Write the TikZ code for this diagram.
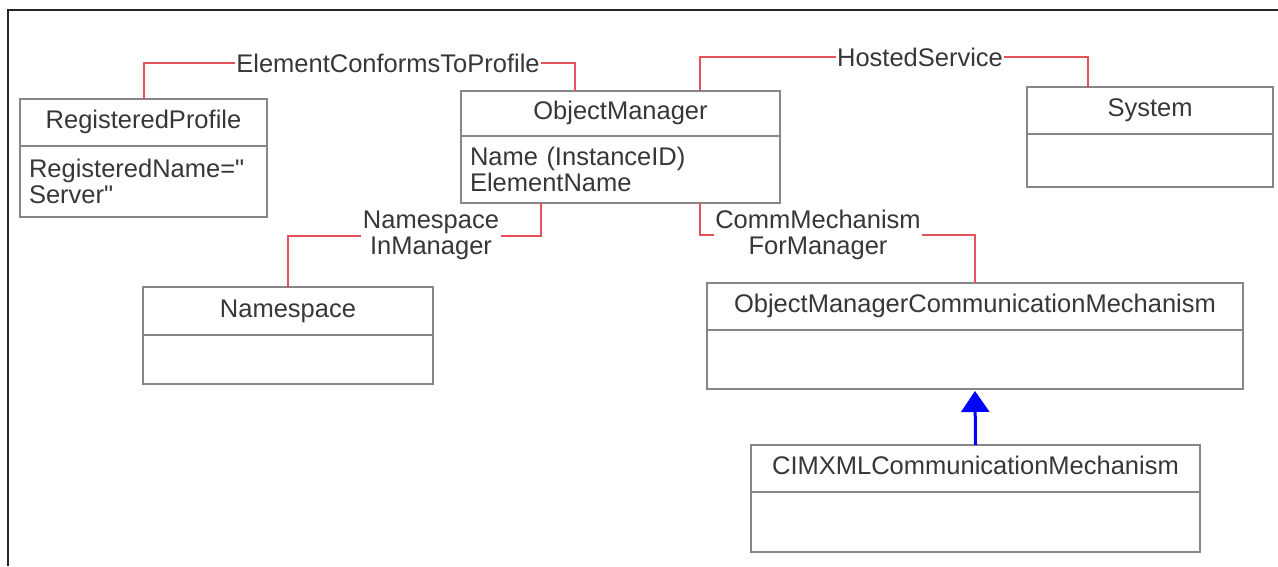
\documentclass[tikz,border=0pt]{standalone}
\usepackage{fontspec}
\setmainfont{Liberation Sans}[Ligatures=TeXOff]
\usetikzlibrary{arrows.meta,calc}
\definecolor{assocred}{RGB}{228,82,92}
\definecolor{boxgray}{RGB}{135,135,135}
\definecolor{txtgray}{RGB}{55,55,55}
\newcommand{\umlfont}{\fontsize{25.5}{25.5}\selectfont}
\begin{document}
\begin{tikzpicture}[x=1pt,y=-1pt,
  clstitle/.style={draw=boxgray, line width=2pt, inner sep=0pt, outer sep=0pt,
    text height=18pt, text depth=6pt, font=\umlfont, text=txtgray},
  clsattr/.style={draw=boxgray, line width=2pt, inner xsep=9pt, inner ysep=0pt, outer sep=0pt,
    align=left, font=\umlfont, text=txtgray, anchor=north},
  assoc/.style={draw=assocred, line width=2pt},
  assoclabel/.style={fill=white, inner xsep=1.5pt, inner ysep=1pt, font=\umlfont,
    text=txtgray, align=center},
  inherit/.style={draw=blue, line width=3pt, -{Triangle[width=28pt,length=21pt]}, shorten >=2pt}
]
\useasboundingbox (0,0) rectangle (1278,566);
\draw[line width=2.5pt, black!85] (8,566) -- (8,10) -- (1278,10);

% classes
\node[clstitle, minimum width=247pt, minimum height=47pt] (rp) at (143.5,122.5) {RegisteredProfile};
\node[clsattr, minimum width=247pt, minimum height=71pt, text width=229pt] (rpa) at (rp.south) {RegisteredName="\\Server"};

\node[clstitle, minimum width=319pt, minimum height=45pt] (om) at (620.5,113.5) {ObjectManager};
\node[clsattr, minimum width=319pt, minimum height=67pt, text width=301pt] (oma) at (om.south) {Name (InstanceID)\\ElementName};

\node[clstitle, minimum width=246pt, minimum height=47pt] (sys) at (1150,110.5) {System};
\node[clsattr, minimum width=246pt, minimum height=53pt] (sysa) at (sys.south) {};

\node[clstitle, minimum width=290pt, minimum height=48pt] (ns) at (288,311) {Namespace};
\node[clsattr, minimum width=290pt, minimum height=49pt] (nsa) at (ns.south) {};

\node[clstitle, minimum width=536pt, minimum height=47pt] (omcm) at (975,306.5) {ObjectManagerCommunicationMechanism};
\node[clsattr, minimum width=536pt, minimum height=59pt] (omcma) at (omcm.south) {};

\node[clstitle, minimum width=449pt, minimum height=47pt] (cim) at (975.5,468.5) {CIMXMLCommunicationMechanism};
\node[clsattr, minimum width=449pt, minimum height=60pt] (cima) at (cim.south) {};

% association end points
\coordinate (ecpR) at ([xshift=114pt]om.north west);
\coordinate (hsL) at ([xshift=239pt]om.north west);
\coordinate (hsR) at ([xshift=61pt]sys.north west);
\coordinate (nimA) at ([xshift=80pt]oma.south west);
\coordinate (cmA) at ([xshift=239pt]oma.south west);

% associations
\draw[assoc] (rp.north) |- ([yshift=28pt]ecpR) -- (ecpR);
\node[assoclabel] (ecpl) at (388,63) {ElementConformsToProfile};

\draw[assoc] (hsL) -- ([yshift=34pt]hsL) -| (hsR);
\node[assoclabel] (hsl) at (920,57) {HostedService};

\draw[assoc] (nimA) -- ([yshift=-33pt]nimA) -| (ns.north);
\node[assoclabel] (niml) at (431,235.5) {Namespace\\InManager};

\draw[assoc] (cmA) -- ([yshift=-32pt]cmA) -| (omcm.north);
\node[assoclabel] (cml) at (818,235) {CommMechanism\\ForManager};

% inheritance
\draw[inherit] (cim.north) -- (omcma.south);
\end{tikzpicture}
\end{document}
